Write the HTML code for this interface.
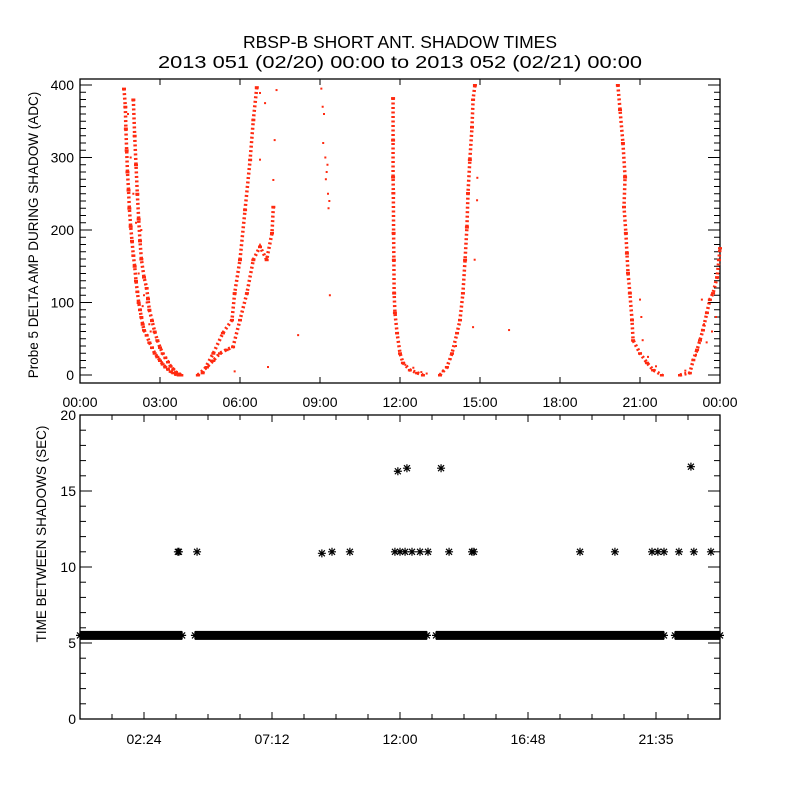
<!DOCTYPE html>
<html><head><meta charset="utf-8"><style>
html,body{margin:0;padding:0;background:#fff;}
svg{display:block;font-family:"Liberation Sans",sans-serif;}
</style></head><body>
<svg id="chart" width="800" height="800" viewBox="0 0 800 800">
<text x="400" y="48" text-anchor="middle" font-size="17.5" textLength="314" lengthAdjust="spacingAndGlyphs">RBSP-B SHORT ANT. SHADOW TIMES</text>
<text x="400" y="68" text-anchor="middle" font-size="17.5" textLength="484" lengthAdjust="spacingAndGlyphs">2013 051 (02/20) 00:00 to 2013 052 (02/21) 00:00</text>
<text transform="translate(38,235) rotate(-90)" text-anchor="middle" font-size="13.5">Probe 5 DELTA AMP DURING SHADOW (ADC)</text>
<text transform="translate(46,534) rotate(-90)" text-anchor="middle" font-size="13.5">TIME BETWEEN SHADOWS (SEC)</text>
<g id="topPanel"></g>
<g id="botPanel"></g>
</svg>
<script>
// ---- top panel data (hours, ADC) ----
const strandAH=[1.65,1.7,1.72,1.75,1.78,1.82,1.85,1.9,1.95,2.0,2.05,2.1,2.15,2.2,2.25,2.3,2.35,2.4,2.5,2.6,2.7,2.8,2.9,3.0,3.1,3.2,3.3,3.4,3.5,3.6,3.7];
const strandAV=[395,370,340,310,280,255,230,205,185,165,150,130,115,100,90,80,70,62,55,45,38,30,25,20,15,11,8,5,3,1,0];
const strandBH=[2.0,2.05,2.1,2.15,2.2,2.25,2.3,2.4,2.5,2.55,2.6,2.7,2.8,2.9,3.0,3.1,3.2,3.3,3.4,3.5,3.6,3.7,3.8];
const strandBV=[380,330,290,250,215,185,160,135,120,105,90,75,60,48,38,30,24,18,12,8,4,2,0];
const strandCH=[4.42,4.76,5.0,5.25,5.5,5.74,6.0,6.26,6.5,6.75,7.0,7.2,7.25];
const strandCV=[0,11,20,30,35,39,76,113,159,177,159,196,232];
const strandDH=[4.6,5.0,5.36,5.7,5.8,6.0,6.19,6.38,6.5,6.63];
const strandDV=[3,30,58,76,113,159,228,297,352,397];
const strandEH=[11.74,11.74,11.74,11.75,11.76,11.77,11.78,11.81,11.89,12.0,12.11,12.37,12.64,12.86];
const strandEV=[382,324,273,251,196,159,113,86,58,30,17,7,3,0];
const strandFH=[13.5,13.76,13.95,14.14,14.25,14.36,14.44,14.51,14.55,14.62,14.7,14.74,14.81];
const strandFV=[0,11,30,58,76,113,159,204,251,297,342,380,400];
const strandGH=[20.17,20.25,20.36,20.44,20.4,20.47,20.51,20.55,20.62,20.7,20.74,21.0,21.26,21.49,21.82];
const strandGV=[400,366,320,273,232,196,168,141,113,76,48,30,17,7,0];
const strandHH=[22.5,22.87,23.0,23.14,23.25,23.36,23.51,23.62,23.74,23.89,23.96,24.0];
const strandHV=[0,3,21,35,48,62,86,104,113,135,159,175];
const extraH=[1.8,1.9,2.0,2.1,2.3,2.2,2.4,2.45,2.5,2.6,2.65,2.35,6.75,6.94,7.3,7.37,6.75,7.25,5.8,7.05,8.18,9.05,9.1,9.15,9.2,9.25,9.3,9.35,9.12,9.22,9.32,9.28,9.37,14.74,14.8,14.89,14.9,16.09,21.0,21.05,21.1,23.32,23.5,23.7,23.85,13.0,12.5,12.2,12.8,13.6,13.9,14.1,21.3,21.6,22.7,23.1,23.4];
const extraV=[360,300,250,210,200,140,110,125,100,70,60,95,389,375,324,393,297,269,5,11,55,395,370,360,300,280,250,240,320,270,230,290,110,66,159,241,272,62,104,80,48,104,45,60,80,2,10,14,4,5,22,40,25,12,6,28,70];
// ---- bottom panel data ----
const bandStart=[0.0,4.31,13.35,22.31];
const bandEnd=[3.83,13.01,21.9,24.0];
const bandValue=5.5;
const midH=[3.67,3.71,4.39,9.07,9.45,10.12,11.81,12.0,12.19,12.45,12.75,13.05,13.84,14.7,14.77,18.75,20.06,21.45,21.67,21.9,22.46,23.02,23.66];
const midV=[11,11,11,10.9,11,11,11,11,11,11,11,11,11,11,11,11,11,11,11,11,11,11,11];
const highH=[11.92,12.26,13.54,22.91];
const highV=[16.3,16.5,16.5,16.6];
const topXTicks=["00:00","03:00","06:00","09:00","12:00","15:00","18:00","21:00","00:00"];
const topYTicks=[0,100,200,300,400];
const botXTickHours=[2.4,7.2,12,16.8,21.6];
const botXTicks=["02:24","07:12","12:00","16:48","21:35"];
const botYTicks=[0,5,10,15,20];

const NS="http://www.w3.org/2000/svg";
const L=80,R=720,T1=79,B1=383,T2=415,B2=719;
const xs=h=>L+h*(R-L)/24;
const y1=v=>375-v*0.725;
const y2=v=>B2-v*(B2-T2)/20;
function mk(tag,attrs,parent){const e=document.createElementNS(NS,tag);for(const k in attrs)e.setAttribute(k,attrs[k]);parent.appendChild(e);return e;}
const topG=document.getElementById('topPanel'),botG=document.getElementById('botPanel');

let f=mk('rect',{x:L,y:T1,width:R-L,height:B1-T1,fill:'none',stroke:'#000','stroke-width':1.3},topG);


topXTicks.forEach((lab,i)=>{const x=xs(i*3);
 let t=mk('line',{x1:x,y1:B1,x2:x,y2:B1-6,stroke:'#000'},topG);
 
 
 let t2=mk('line',{x1:x,y1:T1,x2:x,y2:T1+6,stroke:'#000'},topG);
 
 
 let tx=mk('text',{x:x,y:407,'text-anchor':'middle','font-size':14},topG);tx.textContent=lab;
 
 
});
for(let v=0;v<=400;v+=10){const y=y1(v);const len=v%100===0?12:6;
 let a=mk('line',{x1:L,y1:y,x2:L+len,y2:y,stroke:'#000'},topG);
 
 
 let b=mk('line',{x1:R,y1:y,x2:R-len,y2:y,stroke:'#000'},topG);
 
 }
topYTicks.forEach(v=>{let tx=mk('text',{x:74,y:y1(v)+5,'text-anchor':'end','font-size':14},topG);tx.textContent=v;
 
 });
const strands=[[strandAH,strandAV],[strandBH,strandBV],[strandCH,strandCV],[strandDH,strandDV],[strandEH,strandEV],[strandFH,strandFV],[strandGH,strandGV],[strandHH,strandHV]];
strands.forEach(([H,V])=>{
 const pts=H.map((h,i)=>xs(h)+','+y1(V[i])).join(' ');
 let p=mk('polyline',{points:pts,fill:'none',stroke:'#ff2a10','stroke-width':3.5,'stroke-dasharray':'2 2.5'},topG);
 
 
 H.forEach((h,i)=>{let d=mk('rect',{x:xs(h)-2,y:y1(V[i])-1,width:4,height:2.5,fill:'#ff2a10'},topG);
  
  });
});
extraH.forEach((h,i)=>{let d=mk('rect',{x:xs(h)-1,y:y1(extraV[i])-1,width:2,height:2,fill:'#ff2a10'},topG);
 
 });

let f2=mk('rect',{x:L,y:T2,width:R-L,height:B2-T2,fill:'none',stroke:'#000','stroke-width':1.3},botG);


for(let h=0;h<=24.01;h+=1.2){const x=xs(h);const maj=Math.abs(((h-2.4)/4.8)-Math.round((h-2.4)/4.8))<0.01;const len=maj?7:5;
 let a=mk('line',{x1:x,y1:B2,x2:x,y2:B2-len,stroke:'#000'},botG);
 
 
 let b=mk('line',{x1:x,y1:T2,x2:x,y2:T2+len,stroke:'#000'},botG);
 
 }
botXTicks.forEach((lab,i)=>{let tx=mk('text',{x:xs(botXTickHours[i]),y:744,'text-anchor':'middle','font-size':14},botG);tx.textContent=lab;
 
 });
for(let v=0;v<=20;v++){const y=y2(v);const len=v%5===0?12:6;
 let a=mk('line',{x1:L,y1:y,x2:L+len,y2:y,stroke:'#000'},botG);
 
 
 let b=mk('line',{x1:R,y1:y,x2:R-len,y2:y,stroke:'#000'},botG);
 
 }
botYTicks.forEach(v=>{let tx=mk('text',{x:76,y:y2(v)+5,'text-anchor':'end','font-size':14},botG);tx.textContent=v;
 
 });
function star(h,v,name){const x=xs(h),y=y2(v);
 let g=mk('path',{d:`M${x-4},${y}H${x+4}M${x},${y-4}V${y+4}M${x-3},${y-3}L${x+3},${y+3}M${x-3},${y+3}L${x+3},${y-3}`,stroke:'#000','stroke-width':1.2,fill:'none'},botG);
 
 }
bandStart.forEach((s,i)=>{const x0=xs(s),x1=xs(bandEnd[i]);const y=y2(bandValue);
 let r=mk('rect',{x:x0,y:y-4.5,width:x1-x0,height:9,fill:'#000'},botG);
 
 
 star(s,bandValue,'interval-point');star(bandEnd[i],bandValue,'interval-point');});
midH.forEach((h,i)=>star(h,midV[i],'interval-point'));
highH.forEach((h,i)=>star(h,highV[i],'interval-point'));
</script>
</body></html>
